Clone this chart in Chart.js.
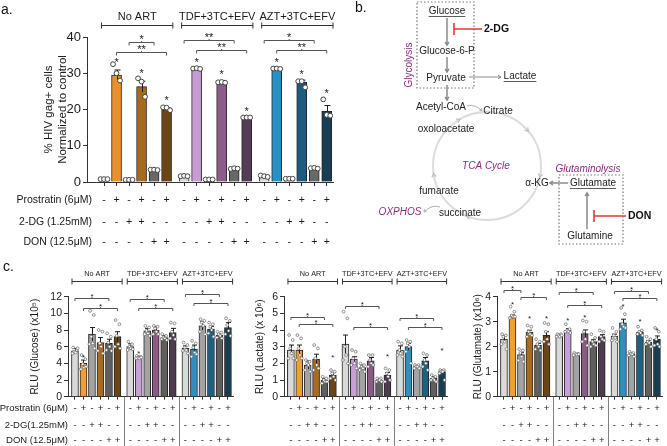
<!DOCTYPE html>
<html><head><meta charset="utf-8">
<script src="https://cdn.jsdelivr.net/npm/chart.js@4.4.1/dist/chart.umd.min.js"></script>
<style>
html,body{margin:0;padding:0;background:#fff;width:667px;height:446px;overflow:hidden}
body{position:relative}
canvas{position:absolute}
</style></head><body>
<canvas id="pa" width="340" height="255" style="left:0;top:0"></canvas>
<canvas id="pb" width="327" height="260" style="left:340px;top:0"></canvas>
<canvas id="pc1" width="240" height="186" style="left:0;top:260px"></canvas>
<canvas id="pc2" width="216" height="186" style="left:236px;top:260px"></canvas>
<canvas id="pc3" width="215" height="186" style="left:452px;top:260px"></canvas>
<script>
// ---------------- shared categories ----------------
const groupNames = ['No ART', 'TDF+3TC+EFV', 'AZT+3TC+EFV'];
const prostratinRow = ['-','+','-','+','-','+'];
const dgRow        = ['-','-','+','+','-','-'];
const donRow       = ['-','-','-','-','+','+'];
const rowLabelsA = ['Prostratin (6μM)', '2-DG (1.25mM)', 'DON (12.5μM)'];
const rowLabelsC = ['Prostratin (6μM)', '2-DG(1.25mM)', 'DON (12.5μM)'];

// ---------------- panel a: % HIV gag+ cells ----------------
const gagMean = [0.8,29.5,0.6,26.3,3.3,20.2, 1.5,31.2,0.7,27.3,3.5,17.7, 1.5,31.2,0.8,27.5,3.7,19.5];
const gagSem  = [0.2,1.4,0.1,1.5,0.3,0.3, 0.2,0.2,0.1,0.3,0.3,0.1, 0.3,0.2,0.2,0.6,0.3,1.6];
const gagPoints = [
 [0.8,0.8,0.8],[32.5,30,28],[0.6,0.6,0.6],[28.6,27.7,23.5],[3.4,3.4,3.3],[20.6,20.5,19.8],
 [1.6,1.7,1.6],[31.3,31.4,31.2],[0.7,0.7,0.7],[27.5,27.6,27.4],[3.6,3.8,3.7],[17.8,17.8,17.8],
 [1.8,1.6,1.4],[31.3,31.3,31.2],[0.9,0.9,0.9],[27.8,27.8,26.1],[3.8,3.9,3.7],[22.8,18.5,18.3]];
const gagStars = [null,33.7,null,30.6,null,23.4, null,33.8,null,30.4,null,20.3, null,33.8,null,30.4,null,25.2];
const gagSig = [[0,2,4,38.7,'*'],[0,1,5,35.8,'**'],[1,0,4,39.2,'**'],[1,1,5,36.4,'**'],[2,0,4,39.2,'*'],[2,1,5,36.4,'**']];
const gagColors = ['#d6d6d6','#e8912a','#c4c4c4','#a46a22','#686868','#6b4514',
                   '#d6d6d6','#c79bd3','#c4c4c4','#8e5c88','#686868','#533c54',
                   '#d6d6d6','#2a8fc1','#c4c4c4','#1c5c7e','#686868','#173e52'];

// ---------------- panel c: glucose / lactate / glutamate ----------------
const glucoseMean = [5.5,4.0,7.5,6.5,6.4,7.2, 6.0,4.7,7.9,8.0,7.1,7.7, 5.8,5.7,8.5,8.1,7.4,8.3];
const glucoseSem  = [0.3,0.4,0.8,0.6,0.5,0.6, 0.35,0.15,0.3,0.4,0.25,0.5, 0.3,0.5,0.5,0.35,0.2,0.6];
const glucosePoints = [
 [5.9,5.6,5.4,5.3,5.2,5.8],[5.0,4.5,3.9,3.5,3.3,3.6],[10.3,9.8,7.2,6.4,6.3,5.8],[8.0,7.8,6.4,6.0,5.5,5.2],[7.6,7.2,6.5,6.0,5.6,5.5],[9.2,8.7,7.3,6.3,6.0,5.8],
 [6.6,6.3,6.0,5.8,5.6,5.7],[4.9,4.8,4.7,4.6,4.6,4.7],[8.5,8.3,7.9,7.6,7.5,7.3],[8.5,8.4,8.2,7.8,7.5,7.5],[7.5,7.3,7.1,7.0,6.9,6.8],[8.9,8.8,7.8,7.4,7.0,6.9],
 [6.5,6.2,5.9,5.6,5.5,5.2],[6.7,6.4,5.9,5.3,4.8,5.1],[9.3,9.1,8.9,8.5,7.8,7.5],[8.9,8.7,8.4,8.0,7.6,7.2],[7.8,7.7,7.5,7.3,7.1,7.0],[9.4,9.1,8.6,7.9,7.5,7.3]];
const glucoseStars = [null,5.0,null,null,null,null, null,5.4,null,null,null,null, null,null,null,null,null,null];
const glucoseSig = [[0,0,4,11.9,'*'],[0,1,5,10.7,'*'],[1,0,4,11.7,'*'],[1,1,5,10.7,'*'],[2,0,4,12.3,'*'],[2,1,5,11.2,'*']];

const lactateMean = [2.8,2.8,1.9,2.25,1.0,1.3, 3.15,2.25,1.75,2.15,1.0,1.3, 2.8,3.0,1.8,2.15,1.1,1.5];
const lactateSem  = [0.3,0.3,0.25,0.3,0.1,0.15, 0.55,0.15,0.15,0.2,0.05,0.15, 0.25,0.2,0.05,0.2,0.1,0.1];
const lactatePoints = [
 [3.7,3.4,2.9,2.6,2.3,2.3],[3.7,3.5,2.9,2.5,2.2,2.3],[2.2,2.1,2.0,1.9,1.6,1.5],[3.1,2.9,2.3,1.9,1.6,1.7],[1.2,1.1,1.0,0.9,0.8,0.9],[1.6,1.5,1.4,1.2,1.1,1.0],
 [5.1,4.7,3.0,2.5,2.2,2.0],[2.8,2.7,2.3,2.0,1.9,1.7],[2.0,1.9,1.8,1.7,1.6,1.5],[2.5,2.5,2.2,2.0,1.8,1.9],[1.1,1.1,1.0,1.0,0.9,0.9],[1.7,1.6,1.4,1.2,0.9,1.0],
 [3.3,3.2,2.8,2.6,2.5,2.4],[3.4,3.3,3.2,3.0,2.7,2.0],[1.9,1.9,1.8,1.8,1.7,1.7],[2.6,2.5,2.2,2.0,1.8,1.6],[1.3,1.2,1.1,1.0,1.0,0.9],[1.6,1.6,1.5,1.5,1.4,1.0]];
const lactateStars = [null,null,null,null,null,2.5, null,null,null,null,null,2.55, null,null,null,null,null,2.9];
const lactateSig = [[0,0,4,4.8,'*'],[0,1,5,4.35,'*'],[1,0,4,5.45,'*'],[1,1,5,4.2,'*'],[2,0,4,4.7,'*'],[2,1,5,4.2,'*']];

const glutamateMean = [2.3,3.2,1.68,2.58,2.05,2.45, 2.45,2.65,1.7,2.52,2.2,2.4, 2.42,2.95,1.7,2.58,2.18,2.3];
const glutamateSem  = [0.15,0.07,0.08,0.08,0.08,0.15, 0.05,0.07,0.03,0.15,0.08,0.08, 0.08,0.15,0.03,0.05,0.07,0.13];
const glutamatePoints = [
 [2.5,2.45,2.4,2.2,2.1,1.9],[3.6,3.4,3.25,3.2,3.15,3.2],[1.9,1.85,1.75,1.6,1.45,1.4],[2.85,2.8,2.6,2.5,2.4,2.45],[2.3,2.2,2.1,2.0,1.9,1.85],[2.95,2.9,2.6,2.3,2.2,2.1],
 [2.5,2.5,2.45,2.4,2.4,2.45],[2.9,2.7,2.65,2.6,2.6,2.55],[1.75,1.72,1.7,1.68,1.66,1.7],[3.05,3.0,2.6,2.3,2.2,2.05],[2.5,2.35,2.2,2.1,2.0,2.05],[2.65,2.6,2.4,2.3,2.2,2.25],
 [2.75,2.6,2.45,2.35,2.25,2.2],[3.55,3.3,2.9,2.8,2.7,2.75],[1.8,1.75,1.72,1.7,1.65,1.6],[2.8,2.65,2.6,2.55,2.5,2.45],[2.4,2.3,2.2,2.15,2.1,2.0],[2.75,2.6,2.3,2.1,2.05,2.0]];
const glutamateStars = [null,3.78,null,3.2,null,3.2, null,3.15,null,3.25,null,null, null,3.68,null,3.1,null,2.75];
const glutamateSig = [[0,0,2,4.25,'*'],[0,2,5,3.98,'*'],[1,0,4,4.17,'*'],[1,1,5,3.67,'*'],[2,0,4,4.24,'*'],[2,1,5,3.93,'*']];

const metabColors = ['#d9d9d9','#f0a030','#a3a3a3','#a86b20','#5f5f5f','#6b4515',
                     '#d9d9d9','#c9a0d6','#a3a3a3','#8b5a85','#5f5f5f','#4e3b4e',
                     '#d9d9d9','#2e8fc0','#a3a3a3','#1f5f80','#5f5f5f','#173d52'];

// ---------------- panel b: pathway diagram ----------------
const pathwayNodes = [
 ['Glucose',447,11,true],['Glucose-6-P',447,51,false],['Pyruvate',446,78,false],['Lactate',520,76,true],
 ['Acetyl-CoA',441,107,false],['Citrate',498,111,false],['oxoloacetate',446,129,false],
 ['α-KG',537,183,false],['Glutamate',593,183,true],['Glutamine',590,236,false],
 ['fumarate',439,191,false],['succinate',460,213,false]];
const pathwayTerms = [['Glycolysis',409,65,true],['TCA Cycle',486,166,false],['Glutaminolysis',588,169,false],['OXPHOS',400,212,false]];
const pathwayArrows = [[447,18,447,45],[447,57,447,72],[469,77,501,77],[447,85,447,100],[568,183,550,183],[587,229,587,193]];
const inhibitors = [['2-DG',454,482,29,484],['DON',594,626,216,628]];

// ---------------- helpers ----------------
const FONT = '"Liberation Sans", Arial, Helvetica, sans-serif';
function makeXs(stride){const xs=[];for(let g=0;g<3;g++)for(let i=0;i<6;i++)xs.push(g*stride+i);return xs;}

function panel(id, P){
  const xs = makeXs(P.stride);
  const barData = P.mean.map((v,k)=>({x:xs[k], y:v}));
  const ptData = [];
  P.points.forEach((arr,k)=>arr.forEach((v,j)=>ptData.push({x:xs[k]+P.jitter[j%P.jitter.length], y:v})));
  const X = v => v - P.left, Y = v => v - P.top;
  const extras = {
    id:'extras',
    afterDatasetDraw(chart,args){
      if(args.index!==1) return;
      const px = v => chart.scales.x.getPixelForValue(v);
      const ctx=chart.ctx, sy=chart.scales.y;
      ctx.save(); ctx.strokeStyle='#1e1e1e'; ctx.lineWidth=1;
      P.mean.forEach((m,k)=>{
        const s=P.sem[k]; if(!s) return;
        const x=Math.round(px(xs[k]))+0.5;
        const yt=sy.getPixelForValue(m+s), yb=sy.getPixelForValue(Math.max(0,m-s));
        ctx.beginPath(); ctx.moveTo(x,yb); ctx.lineTo(x,yt);
        ctx.moveTo(x-P.cap,yt); ctx.lineTo(x+P.cap,yt); ctx.stroke();
      });
      ctx.restore();
    },
    afterDraw(chart){
      const px = v => chart.scales.x.getPixelForValue(v);
      const ctx=chart.ctx, sy=chart.scales.y, ca=chart.chartArea;
      ctx.save();
      ctx.fillStyle='#1a1a1a';
      // y title
      ctx.font=P.yTitleFont+'px '+FONT; ctx.textAlign='center'; ctx.textBaseline='middle';
      const cy=(ca.top+ca.bottom)/2;
      P.yTitle.forEach((t,i)=>{ctx.save();ctx.translate(X(P.yTitleX[i]),cy);ctx.rotate(-Math.PI/2);ctx.fillText(t,0,0);ctx.restore();});
      // group header brackets
      ctx.strokeStyle='#333'; ctx.lineWidth=1;
      ctx.font=P.headFont+'px '+FONT; ctx.textBaseline='middle';
      groupNames.forEach((n,g)=>{
        const x1=px(g*P.stride-P.hdL), x2=px(g*P.stride+5+P.hdR), y=Math.round(Y(P.headY))+0.5;
        ctx.beginPath(); ctx.moveTo(x1,y); ctx.lineTo(x2,y);
        ctx.moveTo(x1,y-3); ctx.lineTo(x1,y+3); ctx.moveTo(x2,y-3); ctx.lineTo(x2,y+3); ctx.stroke();
        ctx.fillText(n,(x1+x2)/2,Y(P.headTextY));
      });
      // significance brackets
      ctx.strokeStyle='#555'; ctx.font=P.sigFont+'px '+FONT; ctx.textBaseline='alphabetic';
      P.sig.forEach(([g,a,b,v,lab])=>{
        const x1=px(xs[g*6+a]), x2=px(xs[g*6+b]), y=Math.round(sy.getPixelForValue(v))+0.5, cx=(x1+x2)/2;
        ctx.beginPath(); ctx.moveTo(x1,y+P.sigTick); ctx.lineTo(x1,y); ctx.lineTo(x2,y); ctx.lineTo(x2,y+P.sigTick);
        ctx.moveTo(cx,y); ctx.lineTo(cx,y-1.5); ctx.stroke();
        ctx.fillText(lab,cx,y+P.sigFont*0.05);
      });
      // stars over bars
      ctx.font=P.starFont+'px '+FONT;
      P.stars.forEach((v,k)=>{ if(v==null) return; ctx.fillText('*',px(xs[k]),sy.getPixelForValue(v)+P.starFont*0.58); });
      // treatment table
      ctx.font=P.tabFont+'px '+FONT; ctx.textBaseline='middle';
      [prostratinRow,dgRow,donRow].forEach((row,r)=>{
        const y=Y(P.tabY[r]);
        if(P.rowLabels){ctx.textAlign='right'; ctx.fillText(P.rowLabels[r],X(P.tabLabelX),y);}
        ctx.textAlign='center';
        xs.forEach((xv,k)=>ctx.fillText(row[k%6],px(xv),y));
      });
      // dividers
      if(P.dividers){ctx.strokeStyle='#808080';ctx.lineWidth=1;
        P.dividers.forEach(d=>{const x=Math.round(px(d))+0.5;ctx.beginPath();ctx.moveTo(x,ca.bottom);ctx.lineTo(x,Y(446));ctx.stroke();});}
      // panel letter
      if(P.letter){ctx.textAlign='left';ctx.font='14px '+FONT;ctx.fillStyle='#111';ctx.fillText(P.letter[0],X(P.letter[1]),Y(P.letter[2]));}
      ctx.restore();
    }
  };
  return new Chart(document.getElementById(id),{
    type:'bar',
    data:{datasets:[
      {type:'scatter',data:ptData,pointRadius:P.ptR,pointBackgroundColor:'#ffffff',pointBorderColor:P.ptC,pointBorderWidth:P.ptW},
      {type:'bar',data:barData,backgroundColor:P.colors,borderColor:'#262626',borderWidth:1,barThickness:P.barW}
    ]},
    options:{
      responsive:false, animation:false, events:[],
      layout:{padding:P.pad},
      plugins:{legend:{display:false},tooltip:{enabled:false}},
      scales:{
        x:{type:'linear',min:P.xmin,max:P.xmax,offset:false,
           grid:{drawOnChartArea:false,drawTicks:true,tickLength:P.xTick,color:'#333',offset:false},
           border:{color:'#333',width:1},ticks:{display:false},
           afterBuildTicks:s=>{s.ticks=xs.map(v=>({value:v}));},
           afterFit:s=>{s.height=P.xH;}},
        y:{type:'linear',min:P.ymin,max:P.ymax,
           grid:{drawOnChartArea:false,tickLength:4,color:'#333'},
           border:{color:'#333',width:1},
           ticks:{stepSize:P.yStep,color:'#1a1a1a',padding:2,font:{family:FONT,size:P.yFont}},
           afterFit:s=>{s.width=P.yW;}}
      }
    },
    plugins:[extras]
  });
}

// panel a
panel('pa',{left:0,top:0,stride:6.4,xmin:-1.36,xmax:18.3,ymin:0,ymax:40,yStep:10,yFont:13,
  pad:{left:0,top:37,right:7,bottom:68},yW:87,xH:5,xTick:4,barW:10,cap:3,
  mean:gagMean,sem:gagSem,points:gagPoints,jitter:[-0.28,0,0.28],ptR:2.4,ptC:'#444',ptW:1,colors:gagColors,
  stars:gagStars,sig:gagSig,sigFont:11,sigTick:3,starFont:11,
  yTitle:['% HIV gag+ cells','Normalized to control'],yTitleX:[49,63],yTitleFont:11.5,
  headY:25,headTextY:17,headFont:11,hdL:0.2,hdR:0.5,
  tabY:[200,222,242],tabLabelX:92,tabFont:10.5,rowLabels:rowLabelsA,letter:['a.',1,10]});

// panel c
const jitC=[-0.22,0.22,-0.08,0.08,-0.3,0.3];
panel('pc1',{left:0,top:260,stride:6.5,xmin:-0.82,xmax:18.63,ymin:0,ymax:12,yStep:2,yFont:10.5,
  pad:{left:0,top:36.7,right:6.7,bottom:45.3},yW:68,xH:4,xTick:3,barW:7,cap:2.5,
  mean:glucoseMean,sem:glucoseSem,points:glucosePoints,jitter:jitC,ptR:1.4,ptC:'#666',ptW:0.7,colors:metabColors,
  stars:glucoseStars,sig:glucoseSig,sigFont:8,sigTick:2.5,starFont:8,
  yTitle:['RLU (Glucose) (x10⁵)'],yTitleX:[35],yTitleFont:10,
  headY:281,headTextY:274,headFont:7.3,hdL:0.35,hdR:0.55,
  tabY:[408,425,440],tabLabelX:68,tabFont:9.5,rowLabels:rowLabelsC,dividers:[5.75,12.25],letter:['c.',3,267]});
panel('pc2',{left:236,top:260,stride:6.5,xmin:-0.82,xmax:18.63,ymin:0,ymax:6,yStep:1,yFont:10.5,
  pad:{left:0,top:36.7,right:2.7,bottom:45.3},yW:48,xH:4,xTick:3,barW:7,cap:2.5,
  mean:lactateMean,sem:lactateSem,points:lactatePoints,jitter:jitC,ptR:1.4,ptC:'#666',ptW:0.7,colors:metabColors,
  stars:lactateStars,sig:lactateSig,sigFont:8,sigTick:2.5,starFont:8,
  yTitle:['RLU (Lactate) (x 10⁶)'],yTitleX:[260],yTitleFont:10,
  headY:281,headTextY:274,headFont:7.3,hdL:0.35,hdR:0.55,
  tabY:[408,425,440],tabFont:9.5,dividers:[5.75,12.25]});
panel('pc3',{left:452,top:260,stride:6.5,xmin:-0.82,xmax:18.63,ymin:0,ymax:4,yStep:1,yFont:10.5,
  pad:{left:0,top:36.7,right:4.7,bottom:45.3},yW:45,xH:4,xTick:3,barW:7,cap:2.5,
  mean:glutamateMean,sem:glutamateSem,points:glutamatePoints,jitter:jitC,ptR:1.4,ptC:'#666',ptW:0.7,colors:metabColors,
  stars:glutamateStars,sig:glutamateSig,sigFont:8,sigTick:2.5,starFont:8,
  yTitle:['RLU (Glutamate) (x10⁶)'],yTitleX:[478],yTitleFont:10,
  headY:281,headTextY:274,headFont:7.3,hdL:0.35,hdR:0.55,
  tabY:[408,425,440],tabFont:9.5,dividers:[5.75,12.25]});

// panel b diagram
const diagram = {
  id:'diagram',
  afterDraw(chart){
    const ctx=chart.ctx, sx=chart.scales.x, sy=chart.scales.y;
    const X=v=>sx.getPixelForValue(v), Y=v=>sy.getPixelForValue(v);
    ctx.save();
    function head(x,y,ang,size,color){ctx.strokeStyle=color;ctx.beginPath();
      ctx.moveTo(x+size*Math.cos(ang+2.6),y+size*Math.sin(ang+2.6));ctx.lineTo(x,y);
      ctx.lineTo(x+size*Math.cos(ang-2.6),y+size*Math.sin(ang-2.6));ctx.stroke();}
    // dotted boxes
    ctx.strokeStyle='#777';ctx.lineWidth=1.2;ctx.setLineDash([1.5,2]);
    ctx.strokeRect(X(417),Y(2),X(474)-X(417),Y(88)-Y(2));
    ctx.strokeRect(X(559),Y(175),X(623)-X(559),Y(244)-Y(175));
    ctx.setLineDash([]);
    // TCA circle
    const cx=X(487), cy=Y(166), r=54;
    ctx.strokeStyle='#dcdcdc';ctx.lineWidth=2;ctx.beginPath();ctx.arc(cx,cy,r,0,Math.PI*2);ctx.stroke();
    ctx.lineWidth=1.2;
    [-40,12,112,172,-120].forEach(d=>{const a=d*Math.PI/180;const x=cx+r*Math.cos(a),y=cy+r*Math.sin(a);
      head(x,y,a+Math.PI/2,4,'#bdbdbd');});
    // straight arrows
    pathwayArrows.forEach(([x1,y1,x2,y2],i)=>{
      ctx.strokeStyle='#8a8a8a'; ctx.lineWidth=(i===2)?1:1.5;
      ctx.beginPath();ctx.moveTo(X(x1),Y(y1));ctx.lineTo(X(x2),Y(y2));ctx.stroke();
      head(X(x2),Y(y2),Math.atan2(Y(y2)-Y(y1),X(x2)-X(x1)),3.5,'#8a8a8a');});
    // curved arrows
    ctx.strokeStyle='#b0b0b0';ctx.lineWidth=1;
    ctx.beginPath();ctx.moveTo(X(467),Y(106));ctx.quadraticCurveTo(X(476),Y(104),X(482),Y(111));ctx.stroke();
    head(X(482),Y(111),0.9,3,'#b0b0b0');
    ctx.beginPath();ctx.moveTo(X(440),Y(207));ctx.quadraticCurveTo(X(432),Y(204),X(424),Y(212));ctx.stroke();
    head(X(424),Y(212),2.3,3,'#b0b0b0');
    // inhibitors
    ctx.strokeStyle='#e53935';ctx.lineWidth=1.6;
    ctx.font='bold 10.5px '+FONT;ctx.fillStyle='#111';ctx.textAlign='left';ctx.textBaseline='middle';
    inhibitors.forEach(([t,x1,x2,y,tx])=>{ctx.beginPath();ctx.moveTo(X(x1),Y(y));ctx.lineTo(X(x2),Y(y));
      ctx.moveTo(X(x1),Y(y)-6);ctx.lineTo(X(x1),Y(y)+6);ctx.stroke();ctx.fillText(t,X(tx),Y(y));});
    // labels
    ctx.font='10px '+FONT;ctx.textAlign='center';ctx.fillStyle='#222';ctx.strokeStyle='#333';ctx.lineWidth=0.8;
    pathwayNodes.forEach(([t,x,y,u])=>{ctx.fillText(t,X(x),Y(y));
      if(u){const w=ctx.measureText(t).width;ctx.beginPath();ctx.moveTo(X(x)-w/2,Y(y)+5.5);ctx.lineTo(X(x)+w/2,Y(y)+5.5);ctx.stroke();}});
    ctx.fillStyle='#8e2a86';
    pathwayTerms.forEach(([t,x,y,rot])=>{
      if(rot){ctx.font='10px '+FONT;ctx.save();ctx.translate(X(x),Y(y));ctx.rotate(-Math.PI/2);ctx.fillText(t,0,0);ctx.restore();}
      else{ctx.font='italic 10px '+FONT;ctx.fillText(t,X(x),Y(y));}});
    ctx.font='14px '+FONT;ctx.fillStyle='#111';ctx.textAlign='left';ctx.fillText('b.',X(355),Y(8));
    ctx.restore();
  }
};
new Chart(document.getElementById('pb'),{
  type:'scatter',
  data:{datasets:[{data:[],pointRadius:0}]},
  options:{responsive:false,animation:false,events:[],layout:{padding:0},
    plugins:{legend:{display:false},tooltip:{enabled:false}},
    scales:{x:{type:'linear',min:340,max:667,display:false},y:{type:'linear',min:0,max:260,reverse:true,display:false}}},
  plugins:[diagram]
});
</script>
</body></html>
